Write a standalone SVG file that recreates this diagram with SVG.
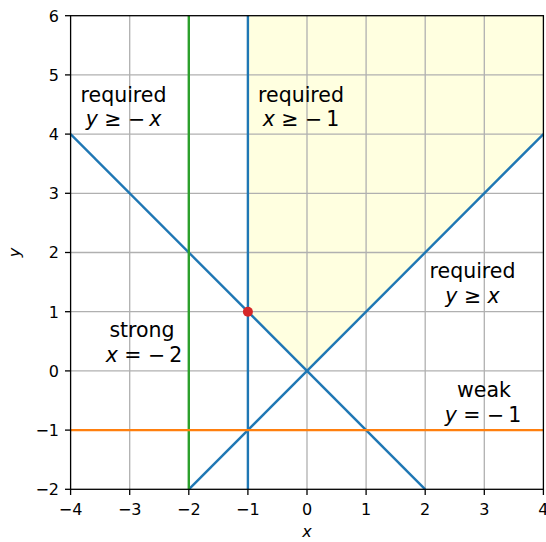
<svg xmlns="http://www.w3.org/2000/svg" width="546" height="542" viewBox="0 0 546 542">
<style>
text{font-family:"DejaVu Sans",sans-serif;fill:#000}
.tk{font-size:16px}
.lb{font-size:20.5px;text-anchor:middle}
.it{font-style:italic}
.grid line{stroke:#b0b0b0;stroke-width:1.3}
.ticks line{stroke:#000;stroke-width:1.3}
</style>
<rect width="546" height="542" fill="#fff"/>
<g id="feasible-region">
<polygon points="247.9,15.7 247.9,311.7 307,370.9 543.4,134.1 543.4,15.7" fill="#ffffe0"/>
</g>
<g class="grid" id="grid">
<line x1="129.7" y1="15.7" x2="129.7" y2="489.3"/>
<line x1="188.8" y1="15.7" x2="188.8" y2="489.3"/>
<line x1="247.9" y1="15.7" x2="247.9" y2="489.3"/>
<line x1="307" y1="15.7" x2="307" y2="489.3"/>
<line x1="366.1" y1="15.7" x2="366.1" y2="489.3"/>
<line x1="425.2" y1="15.7" x2="425.2" y2="489.3"/>
<line x1="484.3" y1="15.7" x2="484.3" y2="489.3"/>
<line x1="70.6" y1="74.9" x2="543.4" y2="74.9"/>
<line x1="70.6" y1="134.1" x2="543.4" y2="134.1"/>
<line x1="70.6" y1="193.3" x2="543.4" y2="193.3"/>
<line x1="70.6" y1="252.5" x2="543.4" y2="252.5"/>
<line x1="70.6" y1="311.7" x2="543.4" y2="311.7"/>
<line x1="70.6" y1="370.9" x2="543.4" y2="370.9"/>
<line x1="70.6" y1="430.1" x2="543.4" y2="430.1"/>
</g>
<g id="connectors" fill="none" stroke-width="2.4">
<line id="y-ge-minus-x" x1="70.6" y1="134.1" x2="425.2" y2="489.3" stroke="#1f77b4"/>
<line id="y-ge-x" x1="188.8" y1="489.3" x2="543.4" y2="134.1" stroke="#1f77b4"/>
<line id="x-ge-minus-1" x1="247.9" y1="15.7" x2="247.9" y2="489.3" stroke="#1f77b4"/>
<line id="x-eq-minus-2" x1="188.8" y1="15.7" x2="188.8" y2="489.3" stroke="#2ca02c"/>
<line id="y-eq-minus-1" x1="70.6" y1="430.1" x2="543.4" y2="430.1" stroke="#ff7f0e"/>
</g>
<g id="solution-point">
<circle cx="247.9" cy="311.7" r="5" fill="#d62728"/>
</g>
<g id="axes">
<rect x="70.6" y="15.7" width="472.8" height="473.6" fill="none" stroke="#000" stroke-width="1.3"/>
<g class="ticks">
<line x1="70.6" y1="489.3" x2="70.6" y2="495"/>
<line x1="129.7" y1="489.3" x2="129.7" y2="495"/>
<line x1="188.8" y1="489.3" x2="188.8" y2="495"/>
<line x1="247.9" y1="489.3" x2="247.9" y2="495"/>
<line x1="307" y1="489.3" x2="307" y2="495"/>
<line x1="366.1" y1="489.3" x2="366.1" y2="495"/>
<line x1="425.2" y1="489.3" x2="425.2" y2="495"/>
<line x1="484.3" y1="489.3" x2="484.3" y2="495"/>
<line x1="543.4" y1="489.3" x2="543.4" y2="495"/>
<line x1="65" y1="15.7" x2="70.6" y2="15.7"/>
<line x1="65" y1="74.9" x2="70.6" y2="74.9"/>
<line x1="65" y1="134.1" x2="70.6" y2="134.1"/>
<line x1="65" y1="193.3" x2="70.6" y2="193.3"/>
<line x1="65" y1="252.5" x2="70.6" y2="252.5"/>
<line x1="65" y1="311.7" x2="70.6" y2="311.7"/>
<line x1="65" y1="370.9" x2="70.6" y2="370.9"/>
<line x1="65" y1="430.1" x2="70.6" y2="430.1"/>
<line x1="65" y1="489.3" x2="70.6" y2="489.3"/>
</g>
<g class="tk" text-anchor="middle">
<text x="70.6" y="515">−4</text>
<text x="129.7" y="515">−3</text>
<text x="188.8" y="515">−2</text>
<text x="247.9" y="515">−1</text>
<text x="307" y="515">0</text>
<text x="366.1" y="515">1</text>
<text x="425.2" y="515">2</text>
<text x="484.3" y="515">3</text>
<text x="543.4" y="515">4</text>
</g>
<g class="tk" text-anchor="end">
<text x="59" y="21.6">6</text>
<text x="59" y="80.8">5</text>
<text x="59" y="140">4</text>
<text x="59" y="199.2">3</text>
<text x="59" y="258.4">2</text>
<text x="59" y="317.6">1</text>
<text x="59" y="376.8">0</text>
<text x="59" y="436">−1</text>
<text x="59" y="495.2">−2</text>
</g>
<text class="tk it" x="307" y="537" text-anchor="middle">x</text>
<text class="tk it" x="20" y="252.5" text-anchor="middle" transform="rotate(-90 20 252.5)">y</text>
</g>
<g id="label-y-ge-minus-x">
<text class="lb" x="123.5" y="102">required</text>
<text class="lb" x="123.5" y="126"><tspan class="it">y</tspan> ≥ −<tspan class="it" dx="4">x</tspan></text>
</g>
<g id="label-x-ge-minus-1">
<text class="lb" x="301" y="102">required</text>
<text class="lb" x="301" y="126"><tspan class="it">x</tspan> ≥ −<tspan dx="4">1</tspan></text>
</g>
<g id="label-y-ge-x">
<text class="lb" x="472.5" y="278">required</text>
<text class="lb" x="472.5" y="303"><tspan class="it">y</tspan> ≥ <tspan class="it">x</tspan></text>
</g>
<g id="label-strong">
<text class="lb" x="142" y="337">strong</text>
<text class="lb" x="144" y="361.5"><tspan class="it">x</tspan> = −<tspan dx="4">2</tspan></text>
</g>
<g id="label-weak">
<text class="lb" x="484" y="397">weak</text>
<text class="lb" x="483" y="421.5"><tspan class="it">y</tspan> = −<tspan dx="4">1</tspan></text>
</g>
</svg>
